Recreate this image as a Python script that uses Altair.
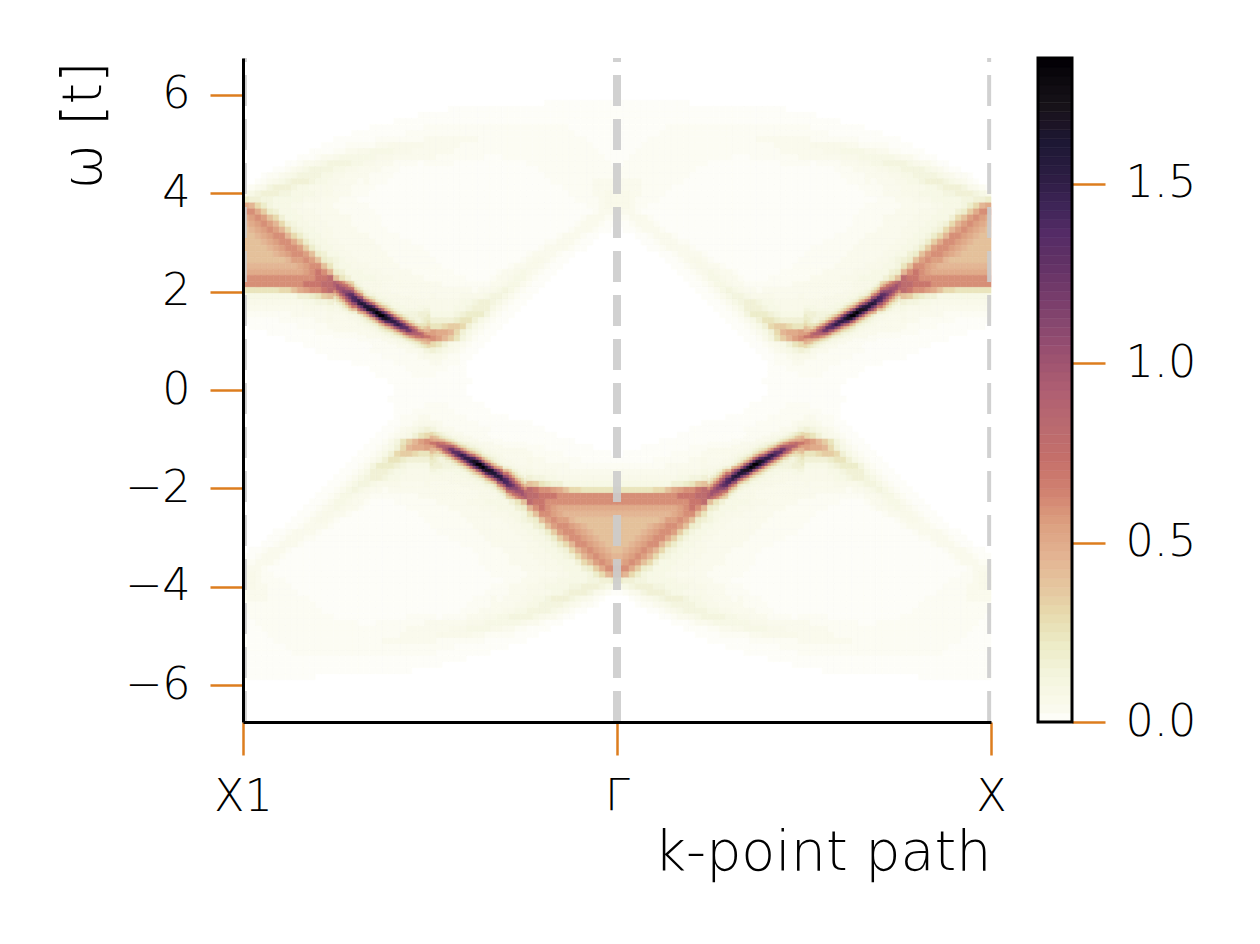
import altair as alt

# intensity code -> spectral weight
LEVELS = dict(zip("0123456789abcdefghijklmnopqrs",
    [0, .01, .02, .04, .06, .08, .12, .16, .2, .25, .3, .35, .4, .45, .5, .55, .6,
     .7, .8, .9, 1.0, 1.1, 1.2, 1.3, 1.4, 1.5, 1.6, 1.7, 1.85]))

Z = "0000000000 0000000000 0000000000 0000000000 0000000000 0000000000 00"
# upper-left quadrant (X1 -> Gamma, omega from top down to 0), one row per 0.123 t
ROWS = [Z, Z, Z, Z, Z, Z, Z,
"0000000000 0000000000 0000000000 0000000000 0000000000 1111111111 11",
"0000000000 0000000000 0000000000 0000111111 1111111111 1111111111 11",
"0000000000 0000000000 0000000001 1111111111 1111111111 1111111111 11",
"0000000000 0000000000 0000011111 1111111111 1111111111 1111111111 11",
"0000000000 0000000000 0111111111 2222222222 2222222222 2222111111 11",
"0000000000 0000000011 1111111222 2222222222 2222222222 2222211111 11",
"0000000000 0000011111 1122222222 3333333332 2222222222 2222222111 11",
"0000000000 0001111222 2233444444 3333332222 2222222222 2222222211 11",
"0000000000 0111122334 4555544433 3333322222 2222222222 2222222221 11",
"0000000001 1123345555 5544433333 3322222222 1112222222 2222222222 11",
"0000000112 3345666655 4433322221 2222211111 1111111222 2222222222 21",
"0000011234 5666655443 3332221111 1111111111 1111111112 2222222222 22",
"0001223456 6665544333 3222211111 1111111111 1111111111 2222222222 22",
"0012345677 7655443332 3222111111 1111111111 1111111111 1222222233 33",
"1234677765 5444433322 2211111111 1111111111 1111111111 1112222233 33",
"4567776655 5544433322 2111111111 1111111111 1111111111 1111222233 44",
"8776655555 4443332221 1111111111 1111111111 1111111111 1111122223 44",
"eda8655544 3333322222 2111111111 1111111111 1111111111 1111111223 44",
"ggeb875554 4433332222 2211111111 1111111111 1111111111 1111111123 33",
"efgfca7555 4443333322 2221111111 1111111111 1111111111 1111112333 22",
"defgfda765 5444333322 2221111111 1111111111 1111111111 1111123332 11",
"cdefgfda76 5544433332 2222111111 1111111111 1111111111 1111233321 10",
"ccdefggda8 6554433333 3222221111 1111111111 1111111111 1123332110 00",
"cccdefggeb 8655443333 3322222211 1111111111 1111111111 2233321100 00",
"ccccdefggf b865544333 3332222222 1111111111 1111111112 3333211000 00",
"cccccdefgg fc87554433 3333222222 2111111111 1111111233 3321100000 00",
"cccccccdff gfc8765443 3333322222 2211111111 1111112344 3211000000 00",
"ddddddddde fggc965544 4333332222 2221111111 1111233443 2110000000 00",
"eeeeeeeeee fghgd87555 4443333322 2222211111 1123345432 1100000000 00",
"gggggggggg gghhic9755 5544433333 2222222111 1233455321 1000000000 00",
"gggggggggg hhhiijd976 5555444333 3332222222 2334553211 0000000000 00",
"999999aace fgghijke97 7655544443 3333333323 3456532110 0000000000 00",
"5555555557 789bchjljb 9766554444 4433334444 5665321100 0000000000 00",
"4444444444 55667cdhnj fb97665544 4444445567 7653211000 0000000000 00",
"3333333333 4444589adn qlgb976655 4444455677 7532110000 0000000000 00",
"2222222233 333344678a eornhc9877 5555567888 6321100000 0000000000 00",
"1111112222 2233445556 79doslhda9 7777789975 3211000000 0000000000 00",
"0111111112 2222333344 4567alokhf 999abba753 2110000000 0000000000 00",
"0000111111 1122222333 3444569ikj gfeeda7532 1100000000 0000000000 00",
"0000000111 1111112222 23333446ag ggfdb96421 1000000000 0000000000 00",
"0000000000 1111111122 2223333347 9a97543211 0000000000 0000000000 00",
"0000000000 0011111111 1222222334 6765432110 0000000000 0000000000 00",
"0000000000 0000111111 1112222223 4443221100 0000000000 0000000000 00",
"0000000000 0000000011 1111122222 2332221000 0000000000 0000000000 00",
"0000000000 0000000000 0111111222 2222111000 0000000000 0000000000 00",
"0000000000 0000000000 0011111122 2211111000 0000000000 0000000000 00",
"0000000000 0000000000 0000111111 1111111100 0000000000 0000000000 00",
"0000000000 0000000000 0000011111 1111111000 0000000000 0000000000 00",
]

# finer reading of the sharp ridge: half-size cells, from column 15 / row 37
DETAIL_C0 = 15
DETAIL_R0 = 37
DETAIL = [
"jihgdba6 55444444 33333333 33333333",
"jkjihfc8 65444444 33333333 33333333",
"ikkkjihb 97554444 33333333 33333333",
"giklllkg ca765544 44433333 33333333",
"cfikmnnk hf976655 44444433 33333333",
"9bfhkmoo lkeb9865 55444444 44333333",
"79beikno pnkheb87 65554444 44444444",
"578aehkl pqpmkhda 87655544 44444444",
"5568aehh lnqqpnjf ca865555 44445555",
"44567acc hkmqrrpl ieb97655 55555566",
"44445677 cegknqsr olhda876 66667777",
"33334445 68beilps sqnkgca8 76667778",
"33333444 5679cfjn qrqolifb 97766788",
"33333334 45678adh knoppnkh ea976789",
"33333333 4455678b ehjlopom jgda999a",
"33333333 33445568 9bdgjlnn nkigcabc",
"33333333 33334456 789adgjk mmkjgfdd",
"22222222 33333344 56679acg ijjjjigf",
"22222222 22233333 4456678a cfghhihh",
"11111111 22222222 33334556 89acdeef",
"11111111 11112222 22333445 56789bcd",
"11111111 11111222 22222333 3456789a",
]

COLOR_STOPS = [0, .01, .03, .136, .219, .293, .368, .46, .553, .646, .74, .83, .934,
               1.017, 1.11, 1.20, 1.296, 1.36, 1.435, 1.51, 1.62, 1.714, 1.807, 1.85]
COLORS = ["#ffffff", "#fdfdf8", "#fbfbef", "#f3f4dc", "#ecebc6", "#e8dcb0", "#e5c8a0", "#e3b493",
          "#dc9f80", "#d08070", "#c46f6a", "#b96a70", "#ad5e72", "#9c5270", "#87476f", "#733a6a",
          "#5e3065", "#552b66", "#3f2558", "#2e1d44", "#1c1733", "#171219", "#0a070c", "#000000"]

K_TICKS = [0, 1, 2]
K_LABELS = ["X1", "Γ", "X"]
W_TICKS = [-6, -4, -2, 0, 2, 4, 6]
CB_TICKS = [0, 0.5, 1.0, 1.5]
VLINES_K = [0.005, 1.0, 1.995]
VLINES_W = [4, 8, 4]

ORANGE = "#dd7d1e"
FONT = "DejaVu Sans"
WMAX = 6.75
NR = 55
NC = 62


def add_cells(out, rows, c0, r0, scale):
    dk = 1 / (NC * scale)
    dw = WMAX / (NR * scale)
    for r, row in enumerate(rows):
        top = WMAX - r0 * WMAX / NR - r * dw
        bot = top - dw
        for c, ch in enumerate(row.replace(" ", "")):
            v = LEVELS[ch]
            if v == 0:
                continue
            a = c0 / NC + c * dk
            b = a + dk
            out.append(dict(x=a, x2=b, y=bot, y2=top, v=v))            # X1-Gamma, omega>0
            out.append(dict(x=2 - b, x2=2 - a, y=bot, y2=top, v=v))    # Gamma-X, omega>0
            out.append(dict(x=1 - b, x2=1 - a, y=-top, y2=-bot, v=v))  # X1-Gamma, omega<0
            out.append(dict(x=1 + a, x2=1 + b, y=-top, y2=-bot, v=v))  # Gamma-X, omega<0


cells = []
add_cells(cells, ROWS, 0, 0, 1)
add_cells(cells, DETAIL, DETAIL_C0, DETAIL_R0, 2)

color_scale = alt.Scale(domain=COLOR_STOPS, range=COLORS, clamp=True)
lab = dict(labelFont=FONT, labelFontWeight=200, labelFontSize=44.5, labelColor="black",
           tickColor=ORANGE, tickSize=33, tickWidth=2.5)

x_enc = alt.X("x:Q", scale=alt.Scale(domain=[0, 2], nice=False, zero=False),
    axis=alt.Axis(values=K_TICKS, title="k-point path", titleAnchor="end", titleFont=FONT,
                  titleFontWeight=200, titleFontSize=55.5, titleColor="black", titlePadding=7,
                  labelExpr="datum.value == 0 ? '%s' : datum.value == 1 ? '%s' : '%s'" % tuple(K_LABELS),
                  grid=False, domainColor="black", domainWidth=3, labelPadding=20, zindex=1,
                  labelFlush=False, labelOverlap=False, **lab))
y_enc = alt.Y("y:Q", scale=alt.Scale(domain=[-WMAX, WMAX], nice=False, zero=False),
    axis=alt.Axis(values=W_TICKS, title="ω [t]", titleAnchor="end", titleFont=FONT,
                  titleFontWeight=200, titleFontSize=55, titleColor="black", titlePadding=12,
                  titleY=3, format="d", grid=False, domainColor="black", domainWidth=3, labelPadding=20,
                  zindex=1, labelOverlap=False, **lab))

heat = alt.Chart(alt.Data(values=cells)).mark_rect(strokeWidth=0.6).encode(
    x=x_enc, x2="x2:Q", y=y_enc, y2="y2:Q",
    color=alt.Color("v:Q", scale=color_scale, legend=None),
    stroke=alt.Stroke("v:Q", scale=color_scale, legend=None),
)

line_rows = [dict(x=k, y=-WMAX, y2=WMAX, w=w) for k, w in zip(VLINES_K, VLINES_W)]
rules = alt.Chart(alt.Data(values=line_rows)).mark_rule(
    color="#cccccc", opacity=0.9, strokeDash=[31, 13]).encode(
    x=alt.X("x:Q"), y=alt.Y("y:Q"), y2="y2:Q",
    strokeWidth=alt.StrokeWidth("w:Q", scale=None, legend=None),
)

main = alt.layer(heat, rules).properties(width=748, height=664)

CB_VALUES = [i * 0.025 for i in range(74)]
cb_rows = [dict(a=0, b=1, y=v, y2=v + 0.025, v=v + 0.0125) for v in CB_VALUES]
cb_y = alt.Y("y:Q", scale=alt.Scale(domain=[0, 1.85], nice=False, zero=False),
    axis=alt.Axis(orient="right", values=CB_TICKS, format=".1f", title=None, domain=False,
                  grid=False, labelPadding=20, labelOverlap=False, labelFlush=False, **lab))
cb_x = alt.X("a:Q", scale=alt.Scale(domain=[0, 1], nice=False, zero=False), axis=None)
cb = alt.Chart(alt.Data(values=cb_rows)).mark_rect(strokeWidth=0.6).encode(
    x=cb_x, x2="b:Q", y=cb_y, y2="y2:Q",
    color=alt.Color("v:Q", scale=color_scale, legend=None),
    stroke=alt.Stroke("v:Q", scale=color_scale, legend=None),
)
frame = alt.Chart(alt.Data(values=[dict(a=0, b=1, y=0, y2=1.85)])).mark_rect(
    filled=False, stroke="black", strokeWidth=3).encode(x=cb_x, x2="b:Q", y=cb_y, y2="y2:Q")
bar = alt.layer(cb, frame).properties(width=34, height=664)

chart = alt.hconcat(main, bar, spacing=47, bounds="flush").resolve_scale(color="independent", stroke="independent", x="independent", y="independent").properties(
    padding={"left": 48, "top": 46, "right": 10, "bottom": 10}, background="white",
).configure_view(stroke=None)

chart.save("out.html", embed_options={"renderer": "svg", "actions": False})
